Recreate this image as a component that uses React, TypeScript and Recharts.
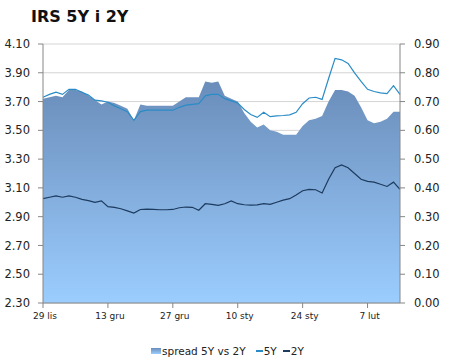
import React from 'react';
import { ComposedChart, Area, Line, XAxis, YAxis, CartesianGrid } from 'recharts';

const tickLabels = ['29 lis', '13 gru', '27 gru', '10 sty', '24 sty', '7 lut'];
const tickIdx = [0, 10, 20, 30, 40, 50];
const leftTicks = [2.3, 2.5, 2.7, 2.9, 3.1, 3.3, 3.5, 3.7, 3.9, 4.1];
const rightTicks = [0, 0.1, 0.2, 0.3, 0.4, 0.5, 0.6, 0.7, 0.8, 0.9];

const irs5y = [
  3.73, 3.75, 3.765, 3.75, 3.785, 3.785, 3.765, 3.745, 3.71, 3.705,
  3.695, 3.67, 3.65, 3.63, 3.57, 3.63, 3.64, 3.64, 3.64, 3.64,
  3.64, 3.66, 3.675, 3.68, 3.685, 3.74, 3.75, 3.75, 3.72, 3.705,
  3.69, 3.645, 3.61, 3.59, 3.625, 3.595, 3.6, 3.603, 3.608, 3.625,
  3.685, 3.725, 3.73, 3.715, 3.86, 4.0, 3.99, 3.965, 3.9, 3.84,
  3.785, 3.77, 3.76, 3.755, 3.81, 3.75,
];

const irs2y = [
  3.025, 3.035, 3.045, 3.035, 3.045, 3.035, 3.02, 3.012, 3.0, 3.01,
  2.97, 2.965, 2.955, 2.94, 2.925, 2.95, 2.952, 2.95, 2.948, 2.948,
  2.95, 2.962, 2.967, 2.965, 2.945, 2.99, 2.985, 2.978, 2.99, 3.01,
  2.99, 2.983, 2.98, 2.982, 2.99, 2.985, 3.0, 3.015, 3.025, 3.05,
  3.08, 3.09, 3.087, 3.065, 3.16, 3.24, 3.26, 3.24, 3.2, 3.16,
  3.145, 3.14, 3.125, 3.11, 3.14, 3.09,
];

const spread = [
  0.71, 0.715, 0.72, 0.715, 0.74, 0.74, 0.735, 0.72, 0.705, 0.69,
  0.7, 0.695, 0.685, 0.675, 0.635, 0.69, 0.685, 0.685, 0.685, 0.685,
  0.685, 0.7, 0.715, 0.715, 0.715, 0.77, 0.765, 0.77, 0.72, 0.71,
  0.7, 0.66, 0.63, 0.61, 0.62, 0.6, 0.595, 0.585, 0.585, 0.585,
  0.615, 0.635, 0.64, 0.65, 0.7, 0.74, 0.74, 0.735, 0.72, 0.68,
  0.635, 0.625, 0.63, 0.64, 0.665, 0.665,
];

const data = irs5y.map((v, i) => ({ i, y5: v, y2: irs2y[i], spread: spread[i] }));

const FONT = '"DejaVu Sans", Verdana, sans-serif';
const AXIS = '#868686';
const C5 = '#2a8cc6';
const C2 = '#1d3b5e';

export default function App() {
  return (
    <div style={{ position: 'absolute', left: 0, top: 0, width: 450, height: 363, background: '#fff', fontFamily: FONT }}>
      <div style={{ position: 'absolute', left: 31, top: 7, fontSize: 16, fontWeight: 'bold', color: '#111', whiteSpace: 'nowrap' }}>
        IRS 5Y i 2Y
      </div>
      <ComposedChart width={450} height={363} data={data} margin={{ top: 44, right: 0, left: 0, bottom: 40 }}>
        <defs>
          <linearGradient id="spreadGrad" x1="0" y1="0" x2="0" y2="1">
            <stop offset="0%" stopColor="#6a8dba" />
            <stop offset="100%" stopColor="#9bcdff" />
          </linearGradient>
        </defs>
        <CartesianGrid yAxisId="left" vertical={false} stroke="#d4d4d4" horizontalValues={leftTicks} />
        <XAxis
          dataKey="i"
          type="number"
          domain={[0, 55]}
          ticks={tickIdx}
          tickFormatter={(v: number) => tickLabels[tickIdx.indexOf(v)] ?? ''}
          height={20}
          tickSize={5}
          tickMargin={5}
          stroke={AXIS}
          tick={{ fontSize: 9, fill: '#222', fontFamily: FONT, dx: 2 }}
          interval={0}
        />
        <YAxis
          yAxisId="left"
          orientation="left"
          domain={[2.3, 4.1]}
          ticks={leftTicks}
          tickFormatter={(v: number) => v.toFixed(2)}
          width={43}
          tickSize={5}
          tickMargin={8}
          stroke={AXIS}
          tick={{ fontSize: 11.5, fill: '#222', fontFamily: FONT }}
          interval={0}
        />
        <YAxis
          yAxisId="right"
          orientation="right"
          domain={[0, 0.9]}
          ticks={rightTicks}
          tickFormatter={(v: number) => v.toFixed(2)}
          width={50}
          tickSize={5}
          tickMargin={9}
          stroke={AXIS}
          tick={{ fontSize: 11.5, fill: '#222', fontFamily: FONT }}
          interval={0}
        />
        <Area
          yAxisId="right"
          type="linear"
          dataKey="spread"
          stroke="none"
          fill="url(#spreadGrad)"
          fillOpacity={1}
          isAnimationActive={false}
          dot={false}
          activeDot={false}
        />
        <Line
          yAxisId="left"
          type="linear"
          dataKey="y5"
          stroke={C5}
          strokeWidth={1.2}
          dot={false}
          activeDot={false}
          isAnimationActive={false}
        />
        <Line
          yAxisId="left"
          type="linear"
          dataKey="y2"
          stroke={C2}
          strokeWidth={1.2}
          dot={false}
          activeDot={false}
          isAnimationActive={false}
        />
      </ComposedChart>
      <div style={{ position: 'absolute', left: 151, top: 344, display: 'flex', alignItems: 'center', fontSize: 10.5, color: '#222', whiteSpace: 'nowrap', lineHeight: '14px' }}>
        <span style={{ display: 'inline-block', width: 10, height: 6, background: 'linear-gradient(#6a8dba, #9bcdff)', marginRight: 1 }} />
        <span>spread 5Y vs 2Y</span>
        <span style={{ display: 'inline-block', width: 7, height: 1.2, background: C5, marginLeft: 10, marginRight: 1 }} />
        <span>5Y</span>
        <span style={{ display: 'inline-block', width: 7, height: 1.2, background: C2, marginLeft: 6, marginRight: 1 }} />
        <span>2Y</span>
      </div>
    </div>
  );
}
